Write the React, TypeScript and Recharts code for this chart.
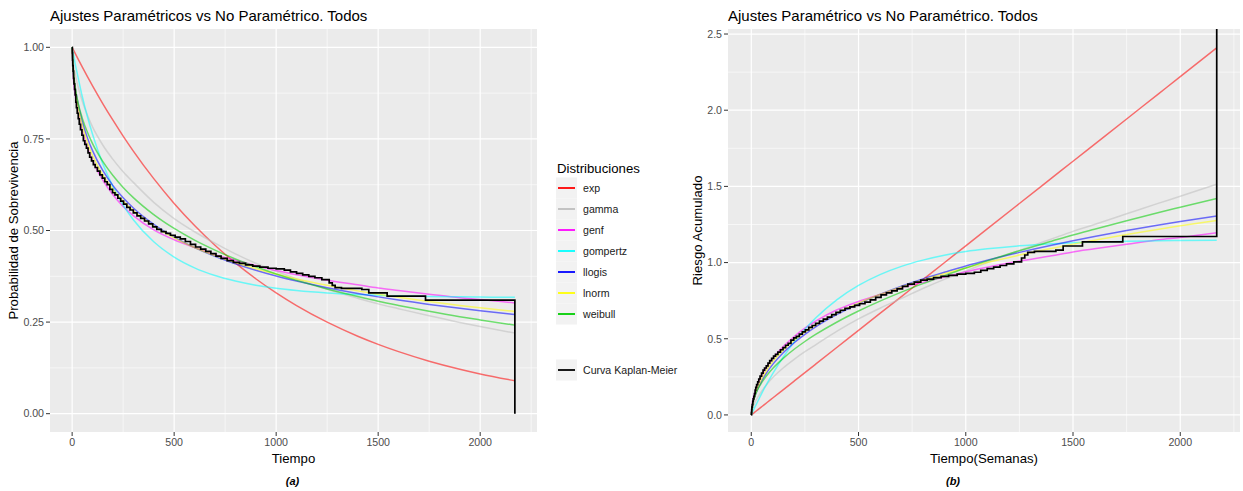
import React from 'react';
import { LineChart, Line, XAxis, YAxis, CartesianGrid } from 'recharts';

const FONT = '"Liberation Sans", Arial, Helvetica, sans-serif';

// Time grid shared by the fitted parametric curves
const times = [0, 5, 15, 30, 50, 75, 100, 150, 200, 250, 300, 400, 500, 600, 700, 800, 900, 1000, 1100, 1250, 1400, 1500, 1600, 1750, 1900, 2000, 2170];

// Survival probability of each fitted distribution
const expSurv = [1, 0.9945, 0.9834, 0.9672, 0.946, 0.92, 0.895, 0.8466, 0.801, 0.7577, 0.7168, 0.6415, 0.574, 0.5138, 0.4598, 0.4115, 0.3683, 0.3296, 0.2949, 0.2497, 0.2114, 0.1892, 0.1693, 0.1433, 0.1214, 0.1086, 0.0899];
const gammaSurv = [1, 0.9608, 0.9277, 0.8914, 0.8521, 0.8146, 0.7827, 0.7334, 0.6942, 0.6604, 0.6313, 0.5769, 0.5326, 0.4966, 0.4653, 0.436, 0.4107, 0.3887, 0.3679, 0.3396, 0.3151, 0.2997, 0.2865, 0.2671, 0.2491, 0.2381, 0.22];
const genfSurv = [1, 0.9231, 0.8694, 0.8187, 0.7711, 0.7261, 0.6907, 0.6376, 0.5975, 0.5655, 0.5407, 0.5016, 0.4747, 0.4538, 0.4339, 0.419, 0.4045, 0.3906, 0.3791, 0.3642, 0.3517, 0.343, 0.3362, 0.3263, 0.3166, 0.3119, 0.3024];
const gompertzSurv = [1, 0.9851, 0.955, 0.9158, 0.865, 0.8106, 0.7626, 0.6825, 0.62, 0.5695, 0.5294, 0.4691, 0.4274, 0.3981, 0.3772, 0.3621, 0.3507, 0.3423, 0.3362, 0.3296, 0.3253, 0.323, 0.3217, 0.3198, 0.3189, 0.3182, 0.3176];
const llogisSurv = [1, 0.943, 0.8929, 0.8439, 0.7968, 0.7527, 0.7179, 0.6638, 0.6225, 0.5892, 0.5613, 0.5167, 0.4819, 0.4534, 0.4296, 0.4094, 0.3917, 0.376, 0.3622, 0.344, 0.3282, 0.3188, 0.31, 0.2982, 0.2877, 0.2811, 0.2709];
const lnormSurv = [1, 0.9486, 0.8907, 0.8357, 0.7854, 0.7398, 0.7046, 0.6515, 0.612, 0.5805, 0.5543, 0.5127, 0.4801, 0.4537, 0.4315, 0.4124, 0.3958, 0.381, 0.3678, 0.3504, 0.3352, 0.3261, 0.3176, 0.3061, 0.2956, 0.2892, 0.2791];
const weibullSurv = [1, 0.9343, 0.8887, 0.8462, 0.8061, 0.768, 0.7371, 0.6886, 0.6499, 0.6175, 0.5898, 0.5434, 0.5056, 0.4738, 0.4466, 0.4223, 0.4009, 0.3814, 0.3638, 0.3403, 0.3198, 0.307, 0.2955, 0.2794, 0.2647, 0.2559, 0.2417];

// Cumulative hazard of each fitted distribution
const expHaz = [0, 0.0056, 0.0167, 0.0333, 0.0555, 0.0833, 0.111, 0.1665, 0.222, 0.2775, 0.333, 0.444, 0.555, 0.666, 0.777, 0.888, 0.999, 1.11, 1.221, 1.3875, 1.554, 1.665, 1.776, 1.9425, 2.109, 2.22, 2.409];
const gammaHaz = [0, 0.04, 0.075, 0.115, 0.16, 0.205, 0.245, 0.31, 0.365, 0.415, 0.46, 0.55, 0.63, 0.7, 0.765, 0.83, 0.89, 0.945, 1.0, 1.08, 1.155, 1.205, 1.25, 1.32, 1.39, 1.435, 1.514];
const genfHaz = [0, 0.08, 0.14, 0.2, 0.26, 0.32, 0.37, 0.45, 0.515, 0.57, 0.615, 0.69, 0.745, 0.79, 0.835, 0.87, 0.905, 0.94, 0.97, 1.01, 1.045, 1.07, 1.09, 1.12, 1.15, 1.165, 1.196];
const gompertzHaz = [0, 0.015, 0.046, 0.088, 0.145, 0.21, 0.271, 0.382, 0.478, 0.563, 0.636, 0.757, 0.85, 0.921, 0.975, 1.016, 1.048, 1.072, 1.09, 1.11, 1.123, 1.13, 1.134, 1.14, 1.143, 1.145, 1.147];
const llogisHaz = [0, 0.0588, 0.1135, 0.17, 0.227, 0.284, 0.332, 0.41, 0.474, 0.529, 0.578, 0.66, 0.73, 0.791, 0.845, 0.893, 0.936, 0.978, 1.0155, 1.067, 1.114, 1.143, 1.171, 1.21, 1.246, 1.269, 1.306];
const lnormHaz = [0, 0.0528, 0.1157, 0.1795, 0.2416, 0.3014, 0.35, 0.4285, 0.491, 0.5438, 0.59, 0.668, 0.734, 0.79, 0.84, 0.886, 0.927, 0.965, 1.0, 1.049, 1.093, 1.121, 1.147, 1.184, 1.219, 1.241, 1.276];
const weibullHaz = [0, 0.068, 0.118, 0.167, 0.2155, 0.264, 0.305, 0.373, 0.431, 0.482, 0.528, 0.61, 0.682, 0.747, 0.806, 0.862, 0.914, 0.964, 1.011, 1.078, 1.14, 1.181, 1.219, 1.275, 1.329, 1.363, 1.42];

// Kaplan-Meier step estimate (event times, survival, cumulative hazard)
const kmTimes = [0, 1, 2, 3, 5, 7, 9, 12, 15, 18, 21, 25, 30, 35, 41, 48, 55, 62, 70, 78, 86, 95, 104, 113, 124, 136, 148, 160, 172, 185, 198, 210, 224, 238, 252, 268, 284, 300, 318, 336, 355, 375, 395, 415, 437, 460, 482, 505, 530, 555, 580, 605, 630, 655, 680, 705, 730, 760, 790, 820, 850, 885, 920, 960, 1000, 1040, 1070, 1100, 1130, 1160, 1190, 1224, 1260, 1275, 1289, 1320, 1420, 1454, 1544, 1732, 2170, 2170];
const kmSurv = [1, 0.985, 0.965, 0.95, 0.935, 0.915, 0.9, 0.885, 0.87, 0.85, 0.835, 0.82, 0.805, 0.79, 0.775, 0.76, 0.745, 0.735, 0.725, 0.712, 0.7, 0.69, 0.68, 0.672, 0.662, 0.652, 0.643, 0.633, 0.625, 0.612, 0.603, 0.597, 0.588, 0.58, 0.572, 0.563, 0.556, 0.548, 0.54, 0.533, 0.526, 0.518, 0.51, 0.503, 0.497, 0.492, 0.487, 0.482, 0.477, 0.47, 0.462, 0.455, 0.449, 0.443, 0.437, 0.43, 0.424, 0.418, 0.413, 0.41, 0.406, 0.403, 0.4, 0.397, 0.395, 0.392, 0.387, 0.383, 0.379, 0.375, 0.371, 0.366, 0.357, 0.35, 0.344, 0.342, 0.339, 0.33, 0.321, 0.31, 0.31, 0];
const kmHaz = [0, 0.0151, 0.0356, 0.0513, 0.0672, 0.0888, 0.1054, 0.1222, 0.1393, 0.1625, 0.1803, 0.1985, 0.2169, 0.2357, 0.2549, 0.2744, 0.2944, 0.3079, 0.3216, 0.3397, 0.3567, 0.3711, 0.3857, 0.3975, 0.4125, 0.4277, 0.4416, 0.4573, 0.47, 0.491, 0.5058, 0.5158, 0.531, 0.5447, 0.5586, 0.5745, 0.587, 0.6015, 0.6162, 0.6292, 0.6425, 0.6578, 0.6733, 0.6872, 0.6992, 0.7093, 0.7195, 0.7298, 0.7402, 0.755, 0.7722, 0.7875, 0.8007, 0.8142, 0.8278, 0.844, 0.858, 0.8723, 0.8843, 0.8916, 0.9014, 0.9088, 0.9163, 0.9238, 0.9289, 0.9365, 0.9493, 0.9597, 0.9702, 0.9808, 0.9916, 1.0051, 1.03, 1.0498, 1.0671, 1.0729, 1.0818, 1.1087, 1.1363, 1.1712, 1.1712, 4];

// Axis ticks and grid values
const timeTicks = [0, 500, 1000, 1500, 2000];
const timeMinor = [250, 750, 1250, 1750, 2250];
const survTicks = [0, 0.25, 0.5, 0.75, 1];
const survMinor = [0.125, 0.375, 0.625, 0.875];
const hazTicks = [0, 0.5, 1, 1.5, 2, 2.5];
const hazMinor = [0.25, 0.75, 1.25, 1.75, 2.25];

const distributions = [
  { key: 'exp', color: '#FF0000', surv: expSurv, haz: expHaz },
  { key: 'gamma', color: '#BEBEBE', surv: gammaSurv, haz: gammaHaz },
  { key: 'genf', color: '#FF00FF', surv: genfSurv, haz: genfHaz },
  { key: 'gompertz', color: '#00FFFF', surv: gompertzSurv, haz: gompertzHaz },
  { key: 'llogis', color: '#0000FF', surv: llogisSurv, haz: llogisHaz },
  { key: 'lnorm', color: '#FFFF00', surv: lnormSurv, haz: lnormHaz },
  { key: 'weibull', color: '#00CD00', surv: weibullSurv, haz: weibullHaz },
];

const survRows = times.map((t, i) => {
  const row: Record<string, number> = { t };
  distributions.forEach((d) => { row[d.key] = d.surv[i]; });
  return row;
});
const hazRows = times.map((t, i) => {
  const row: Record<string, number> = { t };
  distributions.forEach((d) => { row[d.key] = d.haz[i]; });
  return row;
});
const kmSurvRows = kmTimes.map((t, i) => ({ t, km: kmSurv[i] }));
const kmHazRows = kmTimes.map((t, i) => ({ t, km: kmHaz[i] }));

const TIME_DOMAIN: [number, number] = [-108.5, 2278.5];
const tickStyle = { fill: '#4D4D4D', fontSize: 10.6, fontFamily: FONT };

type PanelProps = {
  left: number;
  width: number;
  yWidth: number;
  marginRight: number;
  rows: Record<string, number>[];
  kmRows: { t: number; km: number }[];
  yDomain: [number, number];
  yTicks: number[];
  yMinor: number[];
  digits: number;
};

function Panel({ left, width, yWidth, marginRight, rows, kmRows, yDomain, yTicks, yMinor, digits }: PanelProps) {
  return (
    <div style={{ position: 'absolute', left, top: 0 }}>
      <LineChart width={width} height={491} data={rows} margin={{ top: 29, right: marginRight, bottom: 0, left: 0 }}>
        <CartesianGrid
          fill="#EBEBEB"
          fillOpacity={1}
          stroke="#FFFFFF"
          strokeWidth={0.6}
          horizontalValues={yMinor}
          verticalValues={timeMinor}
        />
        <CartesianGrid
          stroke="#FFFFFF"
          strokeWidth={1.2}
          horizontalValues={yTicks}
          verticalValues={timeTicks}
        />
        <XAxis
          dataKey="t"
          type="number"
          domain={TIME_DOMAIN}
          ticks={timeTicks}
          interval={0}
          allowDataOverflow
          height={59}
          axisLine={false}
          tickSize={4}
          tickLine={{ stroke: '#333333' }}
          tick={tickStyle}
        />
        <YAxis
          type="number"
          domain={yDomain}
          ticks={yTicks}
          interval={0}
          allowDataOverflow
          width={yWidth}
          axisLine={false}
          tickSize={4}
          tickLine={{ stroke: '#333333' }}
          tick={tickStyle}
          tickFormatter={(v: number) => v.toFixed(digits)}
        />
        {distributions.map((d) => (
          <Line
            key={d.key}
            dataKey={d.key}
            type="monotone"
            stroke={d.color}
            strokeOpacity={0.55}
            strokeWidth={1.5}
            dot={false}
            activeDot={false}
            isAnimationActive={false}
          />
        ))}
        <Line
          data={kmRows}
          dataKey="km"
          type="stepAfter"
          stroke="#000000"
          strokeWidth={1.7}
          dot={false}
          activeDot={false}
          isAnimationActive={false}
        />
      </LineChart>
    </div>
  );
}

const legendRowTop = 177.5;
const legendRowH = 21;

export default function App() {
  return (
    <div style={{ position: 'absolute', left: 0, top: 0, width: 1243, height: 491, background: '#FFFFFF', overflow: 'hidden' }}>
      <Panel
        left={0}
        width={560}
        yWidth={50}
        marginRight={23}
        rows={survRows}
        kmRows={kmSurvRows}
        yDomain={[-0.05, 1.05]}
        yTicks={survTicks}
        yMinor={survMinor}
        digits={2}
      />
      <Panel
        left={660}
        width={583}
        yWidth={68}
        marginRight={3}
        rows={hazRows}
        kmRows={kmHazRows}
        yDomain={[-0.112, 2.533]}
        yTicks={hazTicks}
        yMinor={hazMinor}
        digits={1}
      />
      <svg
        width={1243}
        height={491}
        style={{ position: 'absolute', left: 0, top: 0, pointerEvents: 'none' }}
        fontFamily={FONT}
      >
        <text x={50} y={21} fontSize={15} fill="#000000">Ajustes Paramétricos vs No Paramétrico. Todos</text>
        <text x={728} y={21} fontSize={15} fill="#000000">Ajustes Paramétrico vs No Paramétrico. Todos</text>

        <text x={293.5} y={463} fontSize={13.2} fill="#000000" textAnchor="middle">Tiempo</text>
        <text x={984} y={463} fontSize={13.2} fill="#000000" textAnchor="middle">Tiempo(Semanas)</text>

        <text transform="translate(18,230.5) rotate(-90)" fontSize={13.2} fill="#000000" textAnchor="middle">Probabilidad de Sobrevivencia</text>
        <text transform="translate(701.5,230.5) rotate(-90)" fontSize={13.2} fill="#000000" textAnchor="middle">Riesgo Acumulado</text>

        <text x={292.5} y={485} fontSize={11} fontWeight="bold" fontStyle="italic" fill="#000000" textAnchor="middle">(a)</text>
        <text x={953} y={485} fontSize={11} fontWeight="bold" fontStyle="italic" fill="#000000" textAnchor="middle">(b)</text>

        <text x={557} y={172.5} fontSize={13.2} fill="#000000">Distribuciones</text>
        {distributions.map((d, i) => {
          const top = legendRowTop + i * legendRowH;
          const mid = top + legendRowH / 2;
          return (
            <g key={d.key}>
              <rect x={556} y={top} width={21} height={legendRowH} fill="#F2F2F2" />
              <line x1={558} x2={575} y1={mid} y2={mid} stroke={d.color} strokeWidth={1.8} />
              <text x={583} y={mid + 3.8} fontSize={10.6} fill="#1A1A1A">{d.key}</text>
            </g>
          );
        })}
        <rect x={556} y={359.5} width={21} height={21} fill="#F2F2F2" />
        <line x1={558} x2={575} y1={370} y2={370} stroke="#000000" strokeWidth={1.8} />
        <text x={583} y={373.8} fontSize={10.6} fill="#1A1A1A">Curva Kaplan-Meier</text>
      </svg>
    </div>
  );
}
